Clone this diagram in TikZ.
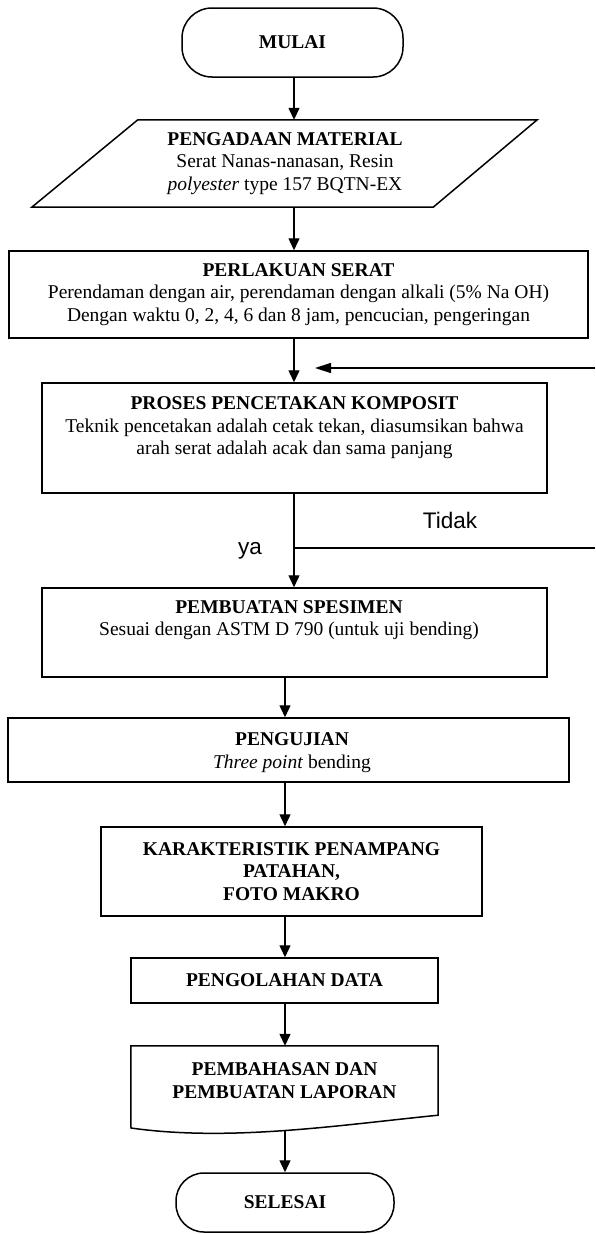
\documentclass[tikz,border=0pt]{standalone}
\usepackage{fontspec}
\setmainfont{Liberation Serif}
\newfontfamily\labelfont{Liberation Sans}
\usetikzlibrary{arrows.meta}
\begin{document}
\begin{tikzpicture}[x=1pt,y=-1pt,
  ln/.style={line width=1.5pt},
  box/.style={draw, line width=1.5pt, inner sep=0pt},
  txt/.style={align=center, font=\fontsize{19.5}{22.5}\selectfont, inner sep=0pt},
  lbl/.style={font=\labelfont\fontsize{22.5}{26}\selectfont, inner sep=0pt},
  arr/.style={line width=1.4pt, -{Triangle[width=11pt,length=12pt]}},
]
\useasboundingbox (0,0) rectangle (595,1234);
\fill[white] (0,0) rectangle (595,1234);

\coordinate (colA) at (294,0);
\coordinate (colB) at (285,0);

% start
\node[box, txt, rounded corners=30pt, minimum width=221pt, minimum height=69pt] (mulai) at (292.5,42.5) {\textbf{MULAI}};

% input (parallelogram)
\node[txt, minimum width=400pt, minimum height=87pt] (para) at (285,163.5)
  {\textbf{PENGADAAN MATERIAL}\\Serat Nanas-nanasan, Resin\\\textit{polyester} type 157 BQTN-EX};
\draw[ln, line join=miter] ([xshift=53pt]para.north west) -- ([xshift=52pt]para.north east)
  -- ([xshift=-52pt]para.south east) -- ([xshift=-53pt]para.south west) -- cycle;

% fibre treatment
\node[box, txt, minimum width=579pt, minimum height=87pt] (perlakuan) at (298.5,294.5)
  {\textbf{PERLAKUAN SERAT}\\Perendaman dengan air, perendaman dengan alkali (5\% Na OH)\\Dengan waktu 0, 2, 4, 6 dan 8 jam, pencucian, pengeringan};

% moulding
\node[box, minimum width=505pt, minimum height=110pt] (proses) at (294.5,438) {};
\node[txt] (prosesT) at (294.5,428)
  {\textbf{PROSES PENCETAKAN KOMPOSIT}\\Teknik pencetakan adalah cetak tekan, diasumsikan bahwa\\arah serat adalah acak dan sama panjang};

% specimen
\node[box, minimum width=505pt, minimum height=89pt] (pembuatan) at (294.5,632.5) {};
\node[txt] (pembuatanT) at (289,620)
  {\textbf{PEMBUATAN SPESIMEN}\\Sesuai dengan ASTM D 790 (untuk uji bending)};

% testing
\node[box, minimum width=561pt, minimum height=64pt] (pengujian) at (288.5,750) {};
\node[txt] (pengujianT) at (292,752.5) {\textbf{PENGUJIAN}\\\textit{Three point} bending};

% characteristics
\node[box, txt, minimum width=381pt, minimum height=89pt] (karakteristik) at (291.5,871.5)
  {\textbf{KARAKTERISTIK PENAMPANG}\\\textbf{PATAHAN,}\\\textbf{FOTO MAKRO}};

% data processing
\node[box, txt, minimum width=307pt, minimum height=45pt] (pengolahan) at (284.5,980.5) {\textbf{PENGOLAHAN DATA}};

% document
\node[txt, minimum width=307pt, minimum height=69pt] (pembahasan) at (284.5,1080.5)
  {\textbf{PEMBAHASAN DAN}\\\textbf{PEMBUATAN LAPORAN}};
\draw[ln, line join=miter] (pembahasan.north west) -- (pembahasan.north east) -- (pembahasan.south east)
  .. controls (340,1125) and (230,1142) .. (131,1128) -- cycle;
\coordinate (pbWave) at (285,1130.5);

% end
\node[box, txt, rounded corners=28pt, minimum width=218pt, minimum height=59pt] (selesai) at (285,1202.5) {\textbf{SELESAI}};

% labels
\node[lbl] (tidak) at (450,520) {Tidak};
\node[lbl] (ya) at (250,551) {ya};

% connectors
\draw[arr] (mulai.south -| colA) -- (para.north -| colA);
\draw[arr] (para.south -| colA) -- (perlakuan.north -| colA);
\draw[arr] (perlakuan.south -| colA) -- (proses.north -| colA);
\draw[arr] (proses.south -| colA) -- (pembuatan.north -| colA);
\draw[arr] (pembuatan.south -| colB) -- (pengujian.north -| colB);
\draw[arr] (pengujian.south -| colB) -- (karakteristik.north -| colB);
\draw[arr] (karakteristik.south -| colB) -- (pengolahan.north -| colB);
\draw[arr] (pengolahan.south -| colB) -- (pembahasan.north -| colB);
\draw[arr] (pbWave) -- (selesai.north -| colB);

\coordinate (fbR) at (595,368);
\coordinate (fbTip) at (315,368);
\draw[line width=1.4pt, -{Triangle[width=10pt,length=16pt]}] (fbR) -- (fbTip);

\coordinate (tdR) at (595,548);
\draw[ln] (tdR) -- (tdR -| colA);
\end{tikzpicture}
\end{document}
